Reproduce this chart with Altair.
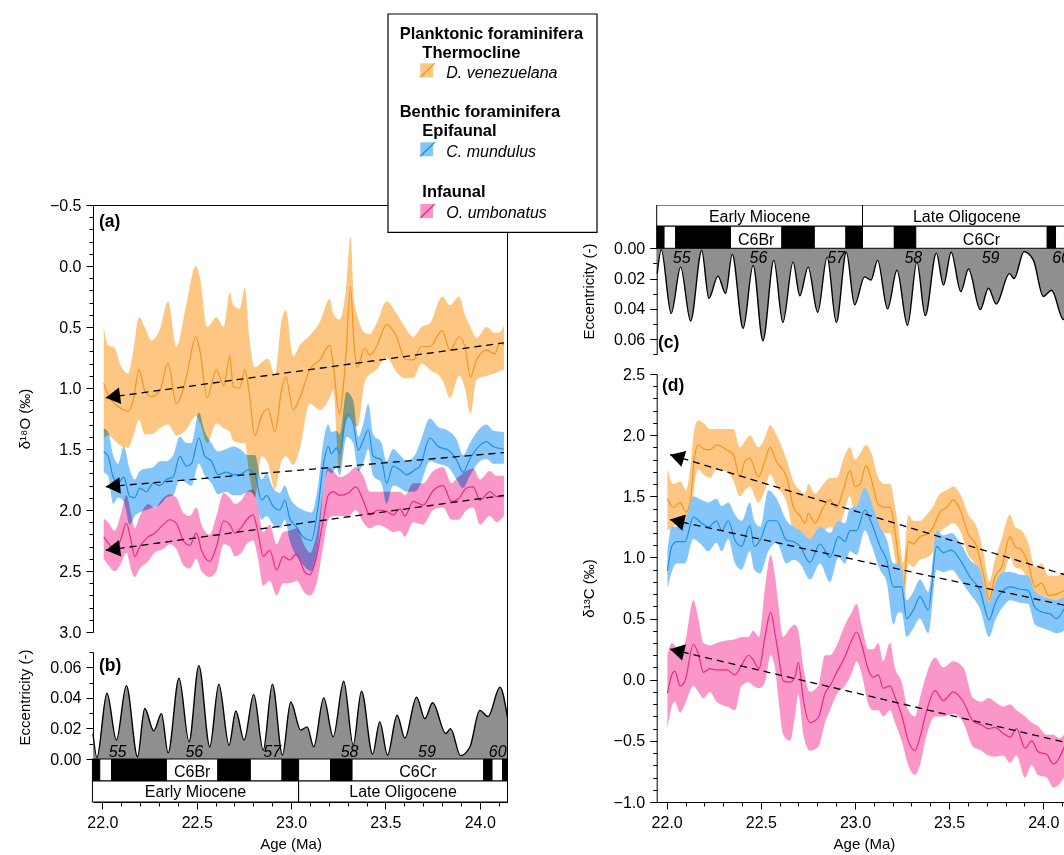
import math

import altair as alt
import pandas as pd

FONT = "Liberation Sans"

# ------------------------------------------------------------------ data
# Orbital eccentricity, turning points of the solution (age in Ma)
ECC_AGE = [21.950, 21.971, 22.024, 22.074, 22.127, 22.186, 22.224, 22.272, 22.313, 22.348,
           22.406, 22.459, 22.511, 22.569, 22.617, 22.671, 22.707, 22.751, 22.802, 22.852,
           22.901, 22.954, 22.998, 23.051, 23.085, 23.120, 23.173, 23.223, 23.279, 23.329,
           23.373, 23.432, 23.470, 23.511, 23.562, 23.603, 23.665, 23.709, 23.750, 23.820,
           23.845, 23.898, 23.948, 24.000, 24.044, 24.107, 24.147]
ECC_VAL = [0.0167, 0.0010, 0.0430, 0.0124, 0.0480, 0.0015, 0.0330, 0.0184, 0.0297, 0.0040,
           0.0529, 0.0113, 0.0611, 0.0080, 0.0490, 0.0091, 0.0314, 0.0124, 0.0423, 0.0058,
           0.0490, 0.0026, 0.0373, 0.0189, 0.0210, 0.0080, 0.0400, 0.0145, 0.0509, 0.0091,
           0.0444, 0.0032, 0.0243, 0.0026, 0.0286, 0.0137, 0.0405, 0.0264, 0.0368, 0.0167,
           0.0199, 0.0022, 0.0080, 0.0318, 0.0277, 0.0470, 0.0270]

# Magnetostratigraphy: chron boundaries (Ma), polarity of each interval (1 = normal)
MAG_EDGES = [21.947, 21.986, 22.048, 22.339, 22.612, 22.784, 22.952, 23.040, 23.209,
             23.323, 24.021, 24.065, 24.121, 24.147]
MAG_NORMAL = [1, 0, 1, 0, 1, 0, 1, 0, 1, 0, 1, 0, 1]
CHRON_NAMES = ["C6Br", "C6Cr"]
CHRON_INTERVAL = [3, 9]

EPOCH_EDGES = [21.947, 23.040, 24.147]
EPOCH_NAMES = ["Early Miocene", "Late Oligocene"]

# 405-kyr eccentricity cycle numbers
CYCLE_LABELS = ["55", "56", "57", "58", "59", "60"]
CYCLE_AGE = [22.08, 22.487, 22.90, 23.31, 23.72, 24.095]

# ---- d18O, D. venezuelana (thermocline)
O18_DV_AGE = [22.007, 22.030, 22.065, 22.092, 22.136, 22.163, 22.194, 22.224, 22.260, 22.304,
              22.348, 22.392, 22.445, 22.495, 22.516, 22.555, 22.604, 22.643, 22.675, 22.693,
              22.728, 22.755, 22.778, 22.808, 22.843, 22.878, 22.914, 22.949, 22.972, 23.011,
              23.046, 23.099, 23.152, 23.205, 23.223, 23.255, 23.290, 23.315, 23.333, 23.350,
              23.391, 23.417, 23.453, 23.506, 23.559, 23.603, 23.647, 23.691, 23.736, 23.801,
              23.842, 23.891, 23.921, 23.951, 23.983, 24.036, 24.080, 24.107, 24.128]
O18_DV_MID = [0.96, 1.06, 1.13, 1.16, 1.19, 1.10, 0.85, 1.02, 1.07, 1.02,
              0.80, 1.13, 0.91, 0.58, 0.69, 1.08, 0.85, 0.98, 0.74, 0.99,
              1.00, 0.85, 1.04, 1.39, 1.23, 1.17, 1.36, 1.02, 0.91, 1.18,
              1.08, 0.85, 0.77, 0.65, 0.80, 1.21, 0.74, 0.17, 0.63, 0.83,
              0.67, 0.73, 0.66, 0.48, 0.58, 0.76, 0.77, 0.66, 0.66, 0.53,
              0.69, 0.58, 0.66, 0.91, 0.77, 0.69, 0.72, 0.63, 0.65]
O18_DV_LO = [0.50, 0.65, 0.67, 0.80, 0.88, 0.70, 0.42, 0.50, 0.61, 0.52,
             0.29, 0.66, 0.31, 0.00, 0.09, 0.50, 0.42, 0.50, 0.22, 0.32,
             0.35, 0.18, 0.58, 0.83, 0.79, 0.76, 0.89, 0.45, 0.36, 0.74,
             0.65, 0.57, 0.46, 0.27, 0.39, 0.44, 0.20, -0.24, 0.28, 0.40,
             0.55, 0.56, 0.47, 0.29, 0.39, 0.50, 0.58, 0.50, 0.47, 0.25,
             0.32, 0.25, 0.40, 0.50, 0.59, 0.50, 0.55, 0.54, 0.49]
O18_DV_HI = [1.41, 1.39, 1.43, 1.47, 1.49, 1.40, 1.26, 1.38, 1.38, 1.33,
             1.30, 1.39, 1.34, 1.23, 1.28, 1.45, 1.29, 1.33, 1.36, 1.43,
             1.45, 1.45, 1.70, 1.90, 1.56, 1.62, 1.83, 1.60, 1.56, 1.63,
             1.50, 1.13, 1.18, 1.08, 1.02, 1.67, 1.29, 1.23, 1.30, 1.32,
             0.95, 0.89, 0.85, 0.75, 0.87, 0.92, 0.92, 0.80, 0.85, 0.93,
             1.08, 0.90, 1.00, 1.21, 0.93, 0.90, 0.88, 0.86, 0.85]

# ---- d18O, C. mundulus (epifaunal benthic)
O18_CM_AGE = [22.007, 22.030, 22.057, 22.083, 22.113, 22.145, 22.171, 22.198, 22.233, 22.269,
              22.304, 22.339, 22.375, 22.410, 22.445, 22.472, 22.511, 22.543, 22.578, 22.613,
              22.657, 22.693, 22.728, 22.772, 22.808, 22.843, 22.870, 22.905, 22.940, 22.967,
              22.993, 23.029, 23.064, 23.108, 23.143, 23.170, 23.197, 23.214, 23.241, 23.258,
              23.294, 23.329, 23.356, 23.382, 23.409, 23.435, 23.479, 23.506, 23.541, 23.577,
              23.612, 23.656, 23.683, 23.736, 23.780, 23.833, 23.877, 23.912, 23.948, 24.001,
              24.036, 24.071, 24.128]
O18_CM_MID = [1.52, 1.56, 1.73, 1.78, 1.73, 1.89, 1.90, 1.82, 1.85, 1.78,
              1.80, 1.75, 1.73, 1.56, 1.64, 1.62, 1.41, 1.56, 1.60, 1.71,
              1.69, 1.71, 1.71, 1.67, 1.71, 1.92, 1.88, 1.97, 2.00, 1.92,
              2.07, 2.14, 2.22, 2.25, 1.97, 1.64, 1.48, 1.54, 1.49, 1.54,
              1.21, 1.29, 1.51, 1.43, 1.34, 1.56, 1.59, 1.78, 1.64, 1.67,
              1.71, 1.67, 1.64, 1.41, 1.48, 1.51, 1.59, 1.69, 1.58, 1.47,
              1.44, 1.48, 1.50]
O18_CM_LO = [1.33, 1.36, 1.55, 1.62, 1.48, 1.67, 1.75, 1.68, 1.66, 1.65,
             1.60, 1.60, 1.55, 1.40, 1.45, 1.45, 1.20, 1.36, 1.45, 1.52,
             1.50, 1.48, 1.50, 1.55, 1.55, 1.75, 1.70, 1.82, 1.86, 1.80,
             1.90, 1.97, 2.00, 2.02, 1.80, 1.45, 1.30, 1.36, 1.35, 1.38,
             1.03, 1.10, 1.40, 1.30, 1.13, 1.38, 1.45, 1.60, 1.50, 1.55,
             1.60, 1.55, 1.45, 1.25, 1.32, 1.35, 1.42, 1.55, 1.45, 1.33,
             1.30, 1.35, 1.36]
O18_CM_HI = [1.69, 1.72, 1.95, 1.90, 1.93, 2.12, 2.05, 2.02, 2.00, 1.98,
             1.96, 1.90, 1.88, 1.75, 1.78, 1.80, 1.62, 1.72, 1.78, 1.87,
             1.85, 1.88, 1.88, 1.85, 1.88, 2.08, 2.05, 2.12, 2.15, 2.08,
             2.25, 2.38, 2.45, 2.50, 2.30, 1.85, 1.68, 1.70, 1.65, 1.72,
             1.40, 1.45, 1.68, 1.62, 1.50, 1.72, 1.78, 1.95, 1.80, 1.82,
             1.85, 1.85, 1.80, 1.60, 1.62, 1.65, 1.75, 1.82, 1.72, 1.60,
             1.58, 1.62, 1.62]

# ---- d18O, O. umbonatus (infaunal benthic)
O18_OU_AGE = [22.007, 22.030, 22.065, 22.095, 22.127, 22.154, 22.171, 22.198, 22.242, 22.277,
              22.322, 22.357, 22.392, 22.428, 22.463, 22.498, 22.525, 22.569, 22.604, 22.643,
              22.675, 22.702, 22.737, 22.764, 22.799, 22.825, 22.852, 22.887, 22.923, 22.958,
              22.993, 23.029, 23.073, 23.099, 23.135, 23.170, 23.197, 23.223, 23.258, 23.303,
              23.343, 23.382, 23.417, 23.462, 23.506, 23.541, 23.577, 23.603, 23.647, 23.700,
              23.753, 23.806, 23.850, 23.886, 23.930, 23.966, 24.001, 24.054, 24.089, 24.128]
O18_OU_MID = [2.22, 2.27, 2.33, 2.25, 2.11, 2.27, 2.38, 2.30, 2.22, 2.19,
              2.12, 2.08, 2.11, 2.25, 2.29, 2.19, 2.33, 2.42, 2.30, 2.09,
              2.12, 2.19, 2.14, 2.08, 2.04, 2.19, 2.38, 2.33, 2.49, 2.38,
              2.41, 2.36, 2.51, 2.53, 2.38, 2.08, 1.88, 1.85, 1.88, 1.86,
              1.81, 1.92, 2.04, 2.00, 2.01, 2.04, 1.99, 2.05, 1.93, 1.96,
              1.84, 1.80, 1.93, 1.91, 1.82, 1.81, 1.92, 1.85, 1.89, 1.89]
O18_OU_LO = [2.07, 2.10, 2.17, 2.05, 1.88, 2.05, 2.15, 2.05, 1.95, 1.98,
             1.90, 1.87, 1.90, 2.02, 2.05, 1.98, 2.12, 2.20, 2.05, 1.86,
             1.90, 1.95, 1.92, 1.85, 1.83, 1.98, 2.18, 2.12, 2.28, 2.18,
             2.17, 2.15, 2.30, 2.35, 2.20, 1.85, 1.65, 1.68, 1.73, 1.70,
             1.65, 1.72, 1.85, 1.85, 1.85, 1.85, 1.85, 1.88, 1.78, 1.78,
             1.68, 1.65, 1.78, 1.73, 1.68, 1.66, 1.75, 1.68, 1.72, 1.72]
O18_OU_HI = [2.40, 2.45, 2.50, 2.45, 2.35, 2.50, 2.55, 2.48, 2.42, 2.35,
             2.32, 2.28, 2.32, 2.45, 2.48, 2.40, 2.50, 2.55, 2.50, 2.28,
             2.30, 2.38, 2.35, 2.28, 2.25, 2.40, 2.62, 2.58, 2.70, 2.60,
             2.60, 2.58, 2.68, 2.70, 2.60, 2.30, 2.08, 2.05, 2.05, 2.05,
             2.00, 2.10, 2.15, 2.12, 2.15, 2.18, 2.17, 2.22, 2.10, 2.12,
             2.00, 1.98, 2.08, 2.08, 2.00, 1.98, 2.12, 2.05, 2.10, 2.05]

# ---- d13C, D. venezuelana
C13_DV_AGE = [22.004, 22.035, 22.071, 22.103, 22.127, 22.147, 22.168, 22.195, 22.230, 22.265,
              22.319, 22.354, 22.389, 22.416, 22.442, 22.487, 22.522, 22.549, 22.584, 22.637,
              22.673, 22.708, 22.735, 22.752, 22.788, 22.832, 22.867, 22.903, 22.938, 22.973,
              23.000, 23.027, 23.058, 23.088, 23.124, 23.159, 23.186, 23.212, 23.230, 23.257,
              23.283, 23.310, 23.345, 23.381, 23.416, 23.451, 23.487, 23.522, 23.558, 23.602,
              23.646, 23.681, 23.713, 23.743, 23.779, 23.823, 23.850, 23.885, 23.920, 23.956,
              23.991, 24.027, 24.071, 24.110]
C13_DV_MID = [1.48, 1.41, 1.45, 1.37, 1.47, 1.82, 1.92, 1.89, 1.88, 1.92,
              1.88, 1.84, 1.66, 1.79, 1.81, 1.66, 1.79, 1.90, 1.78, 1.66,
              1.41, 1.34, 1.28, 1.36, 1.28, 1.41, 1.47, 1.41, 1.55, 1.71,
              1.58, 1.60, 1.75, 1.63, 1.43, 1.41, 1.41, 1.22, 1.00, 0.76,
              1.13, 1.11, 1.17, 1.19, 1.25, 1.37, 1.41, 1.47, 1.39, 1.19,
              1.09, 0.87, 0.65, 0.84, 0.92, 1.17, 1.09, 1.06, 0.95, 0.76,
              0.79, 0.69, 0.70, 0.73]
C13_DV_HI = [1.73, 1.60, 1.62, 1.55, 1.75, 2.05, 2.12, 2.10, 2.05, 2.05,
             2.05, 2.05, 1.90, 1.95, 2.00, 1.90, 1.98, 2.08, 2.00, 1.80,
             1.62, 1.55, 1.52, 1.60, 1.52, 1.60, 1.65, 1.65, 1.80, 1.90,
             1.80, 1.85, 1.92, 1.85, 1.65, 1.60, 1.60, 1.42, 1.25, 0.95,
             1.35, 1.30, 1.30, 1.35, 1.42, 1.52, 1.55, 1.58, 1.52, 1.35,
             1.25, 1.05, 0.80, 0.98, 1.15, 1.35, 1.25, 1.22, 1.12, 0.92,
             0.95, 0.85, 0.85, 0.88]
C13_DV_LO = [1.22, 1.25, 1.30, 1.22, 1.30, 1.60, 1.72, 1.68, 1.65, 1.72,
             1.70, 1.63, 1.50, 1.55, 1.58, 1.45, 1.55, 1.68, 1.58, 1.45,
             1.20, 1.12, 1.05, 1.15, 1.05, 1.20, 1.25, 1.20, 1.35, 1.50,
             1.35, 1.40, 1.55, 1.40, 1.22, 1.20, 1.20, 1.00, 0.80, 0.55,
             0.95, 0.92, 0.98, 1.00, 1.05, 1.20, 1.25, 1.28, 1.22, 1.02,
             0.92, 0.72, 0.55, 0.68, 0.78, 1.00, 0.92, 0.90, 0.80, 0.62,
             0.65, 0.55, 0.57, 0.58]

# ---- d13C, C. mundulus
C13_CM_AGE = [22.004, 22.027, 22.053, 22.097, 22.142, 22.186, 22.221, 22.265, 22.292, 22.327,
              22.363, 22.398, 22.442, 22.465, 22.496, 22.540, 22.584, 22.637, 22.673, 22.708,
              22.761, 22.814, 22.867, 22.912, 22.947, 22.973, 23.009, 23.053, 23.088, 23.133,
              23.168, 23.204, 23.230, 23.248, 23.274, 23.310, 23.345, 23.389, 23.434, 23.469,
              23.513, 23.558, 23.611, 23.664, 23.713, 23.743, 23.788, 23.823, 23.876, 23.920,
              23.956, 24.000, 24.035, 24.071, 24.110]
C13_CM_MID = [0.89, 1.09, 1.13, 1.13, 1.33, 1.28, 1.25, 1.30, 1.22, 1.30,
              1.14, 1.09, 1.26, 1.09, 1.14, 1.30, 1.30, 1.14, 1.13, 1.09,
              0.96, 1.11, 1.00, 1.17, 1.13, 1.22, 1.22, 1.39, 1.28, 1.09,
              0.98, 0.76, 0.76, 0.76, 0.50, 0.57, 0.68, 0.57, 1.09, 1.04,
              1.06, 0.98, 0.84, 0.73, 0.49, 0.62, 0.73, 0.76, 0.74, 0.73,
              0.59, 0.55, 0.54, 0.50, 0.58]
C13_CM_HI = [1.05, 1.25, 1.25, 1.30, 1.50, 1.47, 1.45, 1.48, 1.42, 1.45,
             1.35, 1.30, 1.45, 1.30, 1.25, 1.55, 1.48, 1.30, 1.25, 1.22,
             1.15, 1.25, 1.20, 1.30, 1.28, 1.40, 1.42, 1.57, 1.45, 1.25,
             1.15, 0.95, 0.95, 0.92, 0.65, 0.72, 0.82, 0.72, 1.22, 1.18,
             1.20, 1.12, 0.98, 0.90, 0.63, 0.78, 0.88, 0.88, 0.86, 0.85,
             0.72, 0.68, 0.66, 0.65, 0.68]
C13_CM_LO = [0.75, 0.88, 0.95, 0.95, 1.15, 1.10, 1.05, 1.12, 1.05, 1.15,
             0.95, 0.90, 1.05, 0.90, 0.87, 1.05, 1.12, 0.95, 0.98, 0.95,
             0.82, 0.95, 0.80, 1.00, 0.95, 1.05, 1.02, 1.22, 1.10, 0.90,
             0.80, 0.45, 0.55, 0.55, 0.35, 0.42, 0.50, 0.38, 0.90, 0.88,
             0.90, 0.82, 0.70, 0.58, 0.35, 0.48, 0.60, 0.65, 0.63, 0.62,
             0.45, 0.42, 0.40, 0.38, 0.40]

# ---- d13C, O. umbonatus
C13_OU_AGE = [22.004, 22.027, 22.044, 22.071, 22.097, 22.142, 22.168, 22.195, 22.230, 22.265,
              22.319, 22.363, 22.398, 22.434, 22.460, 22.490, 22.522, 22.552, 22.575, 22.593,
              22.619, 22.655, 22.681, 22.699, 22.726, 22.761, 22.805, 22.841, 22.867, 22.903,
              22.947, 22.982, 23.009, 23.035, 23.071, 23.097, 23.124, 23.150, 23.186, 23.212,
              23.248, 23.283, 23.319, 23.345, 23.381, 23.425, 23.469, 23.522, 23.575, 23.628,
              23.673, 23.708, 23.743, 23.788, 23.823, 23.858, 23.903, 23.938, 23.973, 24.018,
              24.053, 24.088, 24.110]
C13_OU_MID = [-0.11, 0.04, 0.07, -0.05, -0.01, 0.29, 0.21, 0.06, 0.09, 0.08,
              0.08, 0.04, 0.12, 0.20, 0.16, 0.09, 0.35, 0.55, 0.38, 0.21,
              -0.01, -0.02, 0.02, 0.14, -0.17, -0.35, -0.31, -0.11, -0.05, 0.06,
              0.19, 0.32, 0.39, 0.29, 0.08, 0.02, 0.04, -0.07, -0.05, -0.14,
              -0.29, -0.50, -0.58, -0.47, -0.25, -0.09, -0.17, -0.10, -0.18, -0.34,
              -0.37, -0.40, -0.39, -0.44, -0.47, -0.40, -0.56, -0.50, -0.59, -0.61,
              -0.69, -0.63, -0.55]
C13_OU_HI = [0.20, 0.30, 0.28, 0.20, 0.30, 0.65, 0.50, 0.30, 0.28, 0.30,
             0.32, 0.33, 0.35, 0.35, 0.40, 0.35, 0.75, 1.02, 0.85, 0.62,
             0.35, 0.42, 0.45, 0.40, 0.10, -0.10, -0.05, 0.20, 0.20, 0.28,
             0.45, 0.55, 0.62, 0.45, 0.25, 0.25, 0.30, 0.15, 0.30, 0.10,
             -0.02, -0.25, -0.30, -0.15, 0.05, 0.18, 0.10, 0.15, 0.10, -0.15,
             -0.18, -0.15, -0.18, -0.22, -0.20, -0.25, -0.30, -0.35, -0.38, -0.45,
             -0.45, -0.48, -0.45]
C13_OU_LO = [-0.40, -0.22, -0.18, -0.27, -0.20, -0.05, -0.10, -0.15, -0.10, -0.18,
             -0.22, -0.25, -0.05, -0.02, -0.05, -0.07, -0.02, 0.20, 0.10, -0.15,
             -0.45, -0.50, -0.30, -0.12, -0.45, -0.58, -0.55, -0.35, -0.25, -0.12,
             -0.05, 0.05, 0.15, 0.05, -0.20, -0.25, -0.25, -0.30, -0.25, -0.35,
             -0.50, -0.70, -0.78, -0.70, -0.45, -0.30, -0.30, -0.28, -0.35, -0.55,
             -0.58, -0.62, -0.63, -0.62, -0.68, -0.62, -0.80, -0.70, -0.78, -0.80,
             -0.88, -0.85, -0.80]

# Linear trends (start and end of each dashed arrow)
TREND_O18_AGE = [22.018, 24.128]
TREND_O18_DV = [1.08, 0.63]
TREND_O18_CM = [1.81, 1.53]
TREND_O18_OU = [2.33, 1.88]
TREND_C13_AGE = [22.018, 24.11]
TREND_C13_DV = [1.84, 0.86]
TREND_C13_CM = [1.31, 0.61]
TREND_C13_OU = [0.25, -0.51]

# ------------------------------------------------------------------ styling
BAND = {"dv": "#FDC682", "cm": "#84C6F9", "ou": "#FA96C8"}
LINE = {"dv": "#F7941D", "cm": "#1C8FE3", "ou": "#EC2A84"}
ECC_FILL = "#8F8F8F"
HEAD_SIZE = 275

W, H = 971, 597
L_RANGE = [0, 414.5]
R_RANGE = [563.7, 971]
AGE_L = alt.Scale(domain=[21.95, 24.147], range=L_RANGE, nice=False, zero=False)
AGE_R = alt.Scale(domain=[21.947, 24.11], range=R_RANGE, nice=False, zero=False)
Y_O18 = alt.Scale(domain=[-0.5, 3.0], range=[0, 427], nice=False, zero=False)
Y_ECC_B = alt.Scale(domain=[0, 0.07], range=[554, 447], nice=False, zero=False)
Y_ECC_C = alt.Scale(domain=[0, 0.07], range=[43.3, 149.3], nice=False, zero=False)
Y_C13 = alt.Scale(domain=[-1.0, 2.5], range=[597, 169], nice=False, zero=False)

KX_L = (L_RANGE[1] - L_RANGE[0]) / (24.147 - 21.95)
KX_R = (R_RANGE[1] - R_RANGE[0]) / (24.11 - 21.947)
KY_O18 = 427 / 3.5
KY_C13 = (169 - 597) / 3.5

ONE = pd.DataFrame({"k": [0]})


def xq(field, scale):
    return alt.X(f"{field}:Q", scale=scale, axis=None)


def yq(field, scale):
    return alt.Y(f"{field}:Q", scale=scale, axis=None)


def isotope(age, mid, lo, hi, key, xs, ys, clip):
    df = pd.DataFrame({"age": age, "mid": mid, "lo": lo, "hi": hi})
    band = alt.Chart(df).mark_area(color=BAND[key], blend="multiply",
                                   interpolate="monotone", clip=clip).encode(
        x=xq("age", xs), y=yq("lo", ys), y2=alt.Y2("hi"))
    line = alt.Chart(df).mark_line(color=LINE[key], strokeWidth=1.2,
                                   interpolate="monotone", clip=clip).encode(
        x=xq("age", xs), y=yq("mid", ys))
    return band, line


def trend(ages, vals, xs, ys, kx, ky, clip):
    df = pd.DataFrame({"age": ages, "v": vals})
    phi = math.atan2((vals[-1] - vals[0]) * ky, (ages[-1] - ages[0]) * kx)
    h = math.sqrt(3) / 2 * math.sqrt(HEAD_SIZE) / 2
    line = alt.Chart(df).mark_line(color="black", strokeWidth=1.3, strokeDash=[7, 5],
                                   clip=clip).encode(x=xq("age", xs), y=yq("v", ys))
    head = alt.Chart(df.head(1)).mark_point(
        shape="triangle-left", filled=True, color="black", opacity=1, size=HEAD_SIZE,
        angle=math.degrees(phi) % 360, xOffset=h * math.cos(phi), yOffset=h * math.sin(phi),
    ).encode(x=xq("age", xs), y=yq("v", ys))
    return line, head


def eccentricity(xs, ys, clip):
    df = pd.DataFrame({"age": ECC_AGE, "e": ECC_VAL, "z": [0.0] * len(ECC_AGE)})
    area = alt.Chart(df).mark_area(color=ECC_FILL, interpolate="monotone", clip=clip).encode(
        x=xq("age", xs), y=yq("e", ys), y2=alt.Y2("z"))
    line = alt.Chart(df).mark_line(color="black", strokeWidth=1.4, interpolate="monotone",
                                   clip=clip).encode(x=xq("age", xs), y=yq("e", ys))
    return area, line


def strips(xs, mag_y, epoch_y, mag_base, epoch_base, clip):
    mag = pd.DataFrame({"a": MAG_EDGES[:-1], "b": MAG_EDGES[1:], "n": MAG_NORMAL})
    mag_rect = alt.Chart(mag).mark_rect(stroke="black", strokeWidth=1, clip=clip).encode(
        x=xq("a", xs), x2=alt.X2("b"), y=alt.value(mag_y[0]), y2=alt.value(mag_y[1]),
        color=alt.Color("n:N", scale=alt.Scale(domain=[1, 0], range=["black", "white"]),
                        legend=None))
    chrons = pd.DataFrame({
        "name": CHRON_NAMES,
        "age": [(MAG_EDGES[i] + MAG_EDGES[i + 1]) / 2 for i in CHRON_INTERVAL]})
    chron_txt = alt.Chart(chrons).mark_text(font=FONT, fontSize=16, color="black",
                                            align="center", baseline="alphabetic",
                                            clip=clip).encode(
        x=xq("age", xs), y=alt.value(mag_base), text="name:N")
    ep = pd.DataFrame({"a": EPOCH_EDGES[:-1], "b": EPOCH_EDGES[1:], "name": EPOCH_NAMES})
    ep["mid"] = (ep["a"] + ep["b"]) / 2
    ep_rect = alt.Chart(ep).mark_rect(fill="white", stroke="black", strokeWidth=1,
                                      clip=clip).encode(
        x=xq("a", xs), x2=alt.X2("b"), y=alt.value(epoch_y[0]), y2=alt.value(epoch_y[1]))
    ep_txt = alt.Chart(ep).mark_text(font=FONT, fontSize=16, color="black", align="center",
                                     baseline="alphabetic", clip=clip).encode(
        x=xq("mid", xs), y=alt.value(epoch_base), text="name:N")
    return mag_rect, chron_txt, ep_rect, ep_txt


def cycles(xs, base, clip):
    df = pd.DataFrame({"label": CYCLE_LABELS, "age": CYCLE_AGE})
    return alt.Chart(df).mark_text(font=FONT, fontSize=16, fontStyle="italic", color="black",
                                   align="center", baseline="alphabetic", clip=clip).encode(
        x=xq("age", xs), y=alt.value(base), text="label:N")


AXIS_STYLE = dict(domainColor="black", tickColor="black", labelColor="black",
                  titleColor="black", labelFont=FONT, titleFont=FONT, labelFontSize=16,
                  titleFontSize=15, titleFontWeight="normal", grid=False, labelFlush=False,
                  labelOverlap=False, tickWidth=1, domainWidth=1)


def axis_layer(channel, scale, at, orient, values, fmt=None, title=None, offset=0,
               minor=False, title_pad=17, title_y=None):
    kw = dict(AXIS_STYLE, orient=orient, values=values, offset=offset, title=title)
    if minor:
        kw.update(labels=False, domain=False, tickSize=4)
    else:
        kw.update(format=fmt, tickSize=7, labelPadding=5, titlePadding=title_pad)
    if title_y is not None:
        kw.update(titleY=title_y)
    d = pd.DataFrame({"v": [at]})
    if channel == "x":
        enc = {"x": alt.X("v:Q", scale=scale, axis=alt.Axis(**kw))}
    else:
        enc = {"y": alt.Y("v:Q", scale=scale, axis=alt.Axis(**kw))}
    return alt.Chart(d).mark_point(opacity=0).encode(**enc)


def text_at(txt, x, y, size=16, weight="normal", style="normal", align="left"):
    return alt.Chart(ONE).mark_text(text=txt, font=FONT, fontSize=size, fontWeight=weight,
                                    fontStyle=style, color="black", align=align,
                                    baseline="alphabetic").encode(
        x=alt.value(x), y=alt.value(y))


# tick positions
O18_MAJOR = [-0.5, 0.0, 0.5, 1.0, 1.5, 2.0, 2.5, 3.0]
O18_MINOR = [round(-0.5 + 0.1 * i, 1) for i in range(36) if i % 5]
C13_MAJOR = [-1.0, -0.5, 0.0, 0.5, 1.0, 1.5, 2.0, 2.5]
C13_MINOR = [round(-1.0 + 0.1 * i, 1) for i in range(36) if i % 5]
ECC_MAJOR = [0.0, 0.02, 0.04, 0.06]
ECC_MINOR = [0.01, 0.03, 0.05, 0.07]
AGE_MAJOR = [22.0, 22.5, 23.0, 23.5, 24.0]
AGE_MINOR = [round(22.0 + 0.1 * i, 1) for i in range(22) if i % 5]

layers = []

# ---- axes
layers += [
    axis_layer("y", Y_O18, 1.0, "left", O18_MAJOR, ".1f", "δ¹⁸O (‰)"),
    axis_layer("y", Y_O18, 1.0, "left", O18_MINOR, minor=True),
    axis_layer("y", Y_ECC_B, 0.03, "left", ECC_MAJOR, ".2f", "Eccentricity (-)",
               title_y=492),
    axis_layer("y", Y_ECC_B, 0.03, "left", ECC_MINOR, minor=True),
    axis_layer("y", Y_ECC_C, 0.03, "left", ECC_MAJOR, ".2f", "Eccentricity (-)",
               offset=-R_RANGE[0], title_y=86),
    axis_layer("y", Y_ECC_C, 0.03, "left", ECC_MINOR, minor=True, offset=-R_RANGE[0]),
    axis_layer("y", Y_C13, 1.0, "left", C13_MAJOR, ".1f", "δ¹³C (‰)", offset=-R_RANGE[0]),
    axis_layer("y", Y_C13, 1.0, "left", C13_MINOR, minor=True, offset=-R_RANGE[0]),
    axis_layer("x", AGE_L, 23.0, "bottom", AGE_MAJOR, ".1f"),
    axis_layer("x", AGE_L, 23.0, "bottom", AGE_MINOR, minor=True),
    axis_layer("x", AGE_R, 23.0, "bottom", AGE_MAJOR, ".1f"),
    axis_layer("x", AGE_R, 23.0, "bottom", AGE_MINOR, minor=True),
]

# ---- (a) oxygen isotopes
layers += isotope(O18_DV_AGE, O18_DV_MID, O18_DV_LO, O18_DV_HI, "dv", AGE_L, Y_O18, False)
layers += isotope(O18_CM_AGE, O18_CM_MID, O18_CM_LO, O18_CM_HI, "cm", AGE_L, Y_O18, False)
layers += isotope(O18_OU_AGE, O18_OU_MID, O18_OU_LO, O18_OU_HI, "ou", AGE_L, Y_O18, False)
for vals in (TREND_O18_DV, TREND_O18_CM, TREND_O18_OU):
    layers += trend(TREND_O18_AGE, vals, AGE_L, Y_O18, KX_L, KY_O18, False)

# ---- (b) eccentricity with polarity and epoch strips below
layers += eccentricity(AGE_L, Y_ECC_B, False)
layers += strips(AGE_L, (554, 576), (576, 597), 571.5, 591.5, False)
layers.append(cycles(AGE_L, 552, False))

# ---- (c) eccentricity (inverted) with strips above
layers += eccentricity(AGE_R, Y_ECC_C, True)
layers += strips(AGE_R, (21, 43.3), (0, 21), 40, 16.5, True)
layers.append(cycles(AGE_R, 57.5, True))

# ---- (d) carbon isotopes
layers += isotope(C13_DV_AGE, C13_DV_MID, C13_DV_LO, C13_DV_HI, "dv", AGE_R, Y_C13, True)
layers += isotope(C13_CM_AGE, C13_CM_MID, C13_CM_LO, C13_CM_HI, "cm", AGE_R, Y_C13, True)
layers += isotope(C13_OU_AGE, C13_OU_MID, C13_OU_LO, C13_OU_HI, "ou", AGE_R, Y_C13, True)
for vals in (TREND_C13_DV, TREND_C13_CM, TREND_C13_OU):
    layers += trend(TREND_C13_AGE, vals, AGE_R, Y_C13, KX_R, KY_C13, True)

# ---- frame of the left column
layers.append(alt.Chart(ONE).mark_rule(color="black", strokeWidth=1).encode(
    x=alt.value(0), x2=alt.value(L_RANGE[1]), y=alt.value(0.5)))
layers.append(alt.Chart(ONE).mark_rule(color="black", strokeWidth=1).encode(
    x=alt.value(L_RANGE[1]), y=alt.value(0), y2=alt.value(H)))

# ---- panel letters
layers += [
    text_at("(a)", 6, 22, size=17.5, weight="bold"),
    text_at("(b)", 6, 466, size=17.5, weight="bold"),
    text_at("(c)", 565, 143, size=17.5, weight="bold"),
    text_at("(d)", 569, 186, size=17.5, weight="bold"),
]

# ---- x-axis titles
age_title = pd.DataFrame({"t": ["Age (Ma)"], "l": [23.0], "r": [23.05]})
for fld, xs in (("l", AGE_L), ("r", AGE_R)):
    layers.append(alt.Chart(age_title).mark_text(font=FONT, fontSize=15, color="black",
                                                 align="center", baseline="alphabetic").encode(
        x=xq(fld, xs), y=alt.value(644), text="t:N"))

# ---- legend box
layers.append(alt.Chart(ONE).mark_rect(fill="white", stroke="black", strokeWidth=1.2).encode(
    x=alt.value(295), x2=alt.value(504), y=alt.value(-191), y2=alt.value(27.3)))
legend_rows = [
    ("Planktonic foraminifera", 306.7, -166.5, "bold", "normal"),
    ("Thermocline", 329.3, -146.7, "bold", "normal"),
    ("D. venezuelana", 353.3, -127.3, "normal", "italic"),
    ("Benthic foraminifera", 306.7, -88.0, "bold", "normal"),
    ("Epifaunal", 329.3, -69.3, "bold", "normal"),
    ("C. mundulus", 353.3, -48.0, "normal", "italic"),
    ("Infaunal", 329.3, -8.0, "bold", "normal"),
    ("O. umbonatus", 353.3, 12.7, "normal", "italic"),
]
for txt, x, y, wt, st in legend_rows:
    layers.append(text_at(txt, x, y, size=16.5 if wt == "bold" else 16, weight=wt, style=st))
for key, top in (("dv", -141.7), ("cm", -62.7), ("ou", -1.0)):
    layers.append(alt.Chart(ONE).mark_rect(fill=BAND[key]).encode(
        x=alt.value(327.3), x2=alt.value(340), y=alt.value(top), y2=alt.value(top + 14)))
    layers.append(alt.Chart(ONE).mark_rule(color=LINE[key], strokeWidth=1.3).encode(
        x=alt.value(327.3), y=alt.value(top + 14), x2=alt.value(341.7), y2=alt.value(top)))

chart = (
    alt.layer(*layers)
    .resolve_scale(x="independent", y="independent")
    .properties(width=W, height=H, autosize=alt.AutoSizeParams(type="none"),
                padding={"left": 93, "top": 205, "right": 0, "bottom": 53})
    .configure_view(stroke=None)
)

chart.save("out.html", embed_options={"renderer": "svg", "actions": False})
